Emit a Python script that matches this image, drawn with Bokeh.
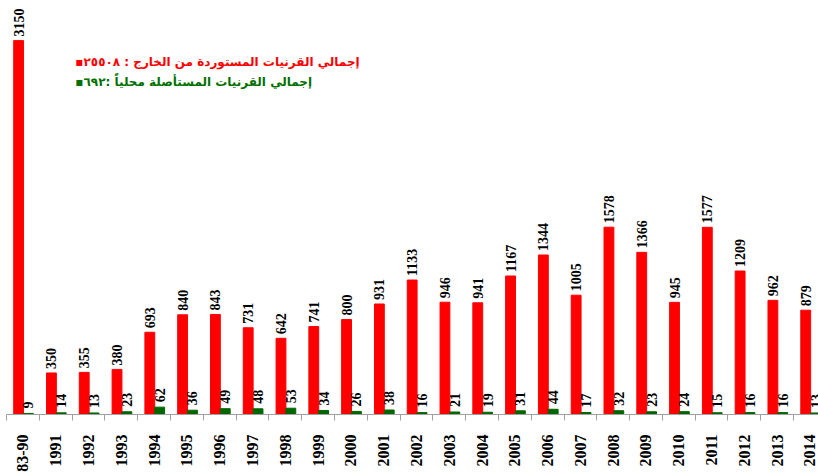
import numpy as np
from bokeh.plotting import figure
from bokeh.models import FixedTicker, Range1d, Label
from bokeh.core.properties import value
from bokeh.embed import file_html
from bokeh.resources import INLINE

years = ["83-90", "1991", "1992", "1993", "1994", "1995", "1996", "1997", "1998",
         "1999", "2000", "2001", "2002", "2003", "2004", "2005", "2006", "2007",
         "2008", "2009", "2010", "2011", "2012", "2013", "2014"]
imported = [3150, 350, 355, 380, 693, 840, 843, 731, 642, 741, 800, 931, 1133,
            946, 941, 1167, 1344, 1005, 1578, 1366, 945, 1577, 1209, 962, 879]
local = [9, 14, 13, 23, 62, 36, 49, 48, 53, 34, 26, 38, 16, 21, 19, 31, 44, 17,
         32, 23, 24, 15, 16, 16, 13]
legend_imported = "إجمالي القرنيات المستوردة من الخارج : ٢٥٥٠٨"
legend_local = "إجمالي القرنيات المستأصلة محلياً :٦٩٢"

idx = np.arange(len(years))
centers = idx + 0.5
red_x = centers - 0.13
green_x = centers + 0.17

p = figure(width=818, height=474, output_backend="svg", toolbar_location=None,
           x_range=Range1d(0, 24.76), y_range=Range1d(0, 3488),
           min_border_left=6, min_border_right=0, min_border_top=0, min_border_bottom=0)
p.outline_line_color = None
p.grid.visible = False
p.yaxis.visible = False

p.vbar(x=red_x, top=imported, width=0.3, color="#FF0000")
p.vbar(x=green_x, top=local, width=0.3, color="#006600")

p.text(x=red_x, y=imported, text=[str(v) for v in imported], angle=np.pi / 2,
       y_offset=-4, text_align="left", text_baseline="middle",
       text_font=value("Liberation Serif"), text_font_style="bold",
       text_font_size="14px", text_color="black")
p.text(x=green_x, y=local, text=[str(v) for v in local], angle=np.pi / 2,
       y_offset=-5, text_align="left", text_baseline="middle",
       text_font=value("Liberation Serif"), text_font_style="bold",
       text_font_size="14px", text_color="black")

ax = p.xaxis[0]
ax.ticker = FixedTicker(ticks=list(centers), minor_ticks=list(idx) + [len(years)])
ax.major_label_overrides = {float(c): y for c, y in zip(centers, years)}
ax.major_label_orientation = np.pi / 2
ax.major_label_text_font = "Liberation Serif"
ax.major_label_text_font_style = "bold"
ax.major_label_text_font_size = "16px"
ax.major_label_text_color = "black"
ax.major_label_standoff = 14
ax.major_tick_out = 0
ax.major_tick_in = 0
ax.minor_tick_out = 6
ax.minor_tick_in = 0
ax.axis_line_color = "#A0A0A0"
ax.minor_tick_line_color = "#A0A0A0"

p.add_layout(Label(x=2.10, y=2973, text="▪" + legend_imported, text_color="#FF0000",
                   text_font="DejaVu Sans", text_font_style="bold",
                   text_font_size="12px", text_baseline="middle", text_align="left"))
p.add_layout(Label(x=2.10, y=2804, text="▪" + legend_local, text_color="#007000",
                   text_font="DejaVu Sans", text_font_style="bold",
                   text_font_size="12px", text_baseline="middle", text_align="left"))

open("out.html", "w").write(file_html(p, INLINE))
